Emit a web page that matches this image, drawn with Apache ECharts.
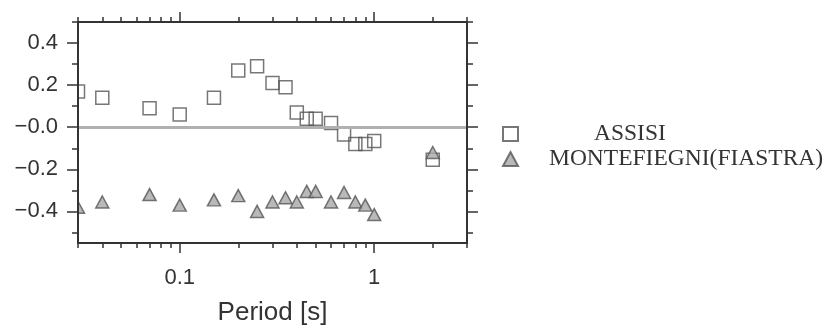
<!DOCTYPE html>
<html>
<head>
<meta charset="utf-8">
<script src="https://cdn.jsdelivr.net/npm/echarts@6/dist/echarts.min.js"></script>
<style>html,body{margin:0;padding:0;background:#fff}#c{width:826px;height:326px}</style>
</head>
<body>
<div id="c"></div>
<script>
const periods = [0.03, 0.04, 0.07, 0.1, 0.15, 0.2, 0.25, 0.3, 0.35, 0.4, 0.45, 0.5, 0.6, 0.7, 0.8, 0.9, 1.0, 2.0];
const assisi = [0.17, 0.14, 0.09, 0.06, 0.14, 0.27, 0.29, 0.21, 0.19, 0.07, 0.04, 0.04, 0.02, -0.035, -0.08, -0.08, -0.065, -0.155];
const montefiegni = [-0.38, -0.355, -0.32, -0.37, -0.345, -0.325, -0.40, -0.355, -0.335, -0.355, -0.305, -0.305, -0.355, -0.31, -0.355, -0.37, -0.415, -0.12];
const yMajor = [-0.4, -0.2, 0, 0.2, 0.4];
const yMinor = [-0.5, -0.3, -0.1, 0.1, 0.3, 0.5];
const xMajor = [0.1, 1];
const xMinor = [0.03, 0.04, 0.05, 0.06, 0.07, 0.08, 0.09, 0.2, 0.3, 0.4, 0.5, 0.6, 0.7, 0.8, 0.9, 2, 3];

const frame = '#333';
const sans = 'Liberation Sans, Arial, sans-serif';
const serif = 'Liberation Serif, Times New Roman, serif';
const lineStyle = {color: frame, width: 2};
function yAx(pos, ticks, len, labels, showLine) {
  return {
    type: 'value', position: pos, min: -0.55, max: 0.5, z: 10,
    axisLine: {show: showLine, onZero: false, lineStyle: lineStyle},
    axisTick: {show: true, inside: false, length: len, customValues: ticks, lineStyle: {color: frame, width: 1.5}},
    axisLabel: labels ? {
      show: true, customValues: yMajor, margin: 20, fontSize: 22, color: '#333', fontFamily: sans,
      formatter: v => (v <= 0 ? '\u2212' : '') + Math.abs(v).toFixed(1)
    } : {show: false},
    splitLine: {show: false}
  };
}
function xAx(pos, ticks, len, labels, showLine) {
  return {
    type: 'log', logBase: 10, position: pos, min: 0.03, max: 3, z: 10,
    axisLine: {show: showLine, onZero: false, lineStyle: lineStyle},
    axisTick: {show: true, inside: false, length: len, customValues: ticks, lineStyle: {color: frame, width: 1.5}},
    axisLabel: labels ? {
      show: true, customValues: xMajor, margin: 24, fontSize: 22, color: '#333', fontFamily: sans,
      formatter: v => String(v)
    } : {show: false},
    splitLine: {show: false},
    minorTick: {show: false},
    name: labels ? 'Period [s]' : '',
    nameLocation: 'middle', nameGap: 57,
    nameTextStyle: {fontSize: 26, color: '#333', fontFamily: sans}
  };
}

const chart = echarts.init(document.getElementById('c'));
chart.setOption({
  animation: false,
  backgroundColor: '#fff',
  grid: {left: 78, right: 359, top: 22, bottom: 83, containLabel: false, outerBoundsMode: 'none'},
  graphic: [{
    type: 'rect', left: 0, top: 0, z: 5, silent: true,
    shape: {width: 77, height: 326}, style: {fill: '#fff'}
  }],
  xAxis: [
    xAx('bottom', xMajor, 10, true, true),
    xAx('bottom', xMinor, 5, false, false),
    xAx('top', xMajor, 10, false, true),
    xAx('top', xMinor, 5, false, false)
  ],
  yAxis: [
    yAx('left', yMajor, 11, true, true),
    yAx('left', yMinor, 6, false, false),
    yAx('right', yMajor, 11, false, true),
    yAx('right', yMinor, 6, false, false)
  ],
  legend: {
    orient: 'vertical', left: 502, top: 122, padding: 0, itemWidth: 15, itemHeight: 14, itemGap: 1,
    selectedMode: false,
    data: ['ASSISI', 'MONTEFIEGNI(FIASTRA)'],
    formatter: n => n === 'ASSISI' ? '{a|' + n + '}' : '{b|' + n + '}',
    textStyle: {
      fontFamily: serif, fontSize: 23.5, color: '#333',
      rich: {
        a: {padding: [0, 0, 0, 71], fontFamily: serif, fontSize: 23.5, color: '#333'},
        b: {padding: [0, 0, 0, 26], fontFamily: serif, fontSize: 23.5, color: '#333'}
      }
    }
  },
  series: [
    {
      name: 'ASSISI', type: 'scatter', symbol: 'rect', symbolSize: 13, clip: true,
      data: periods.map((p, i) => [p, assisi[i]]),
      itemStyle: {color: 'rgba(255,255,255,0)', borderColor: '#555', borderWidth: 1.5},
      markLine: {
        silent: true, symbol: 'none', label: {show: false},
        lineStyle: {color: '#b0b0b0', width: 3, type: 'solid'},
        data: [{yAxis: 0}]
      },
      z: 2
    },
    {
      name: 'MONTEFIEGNI(FIASTRA)', type: 'scatter', symbol: 'triangle', symbolSize: [13, 12], clip: true,
      data: periods.map((p, i) => [p, montefiegni[i]]),
      itemStyle: {color: '#a8a8a8', borderColor: '#555', borderWidth: 1.5},
      z: 3
    }
  ]
});
</script>
</body>
</html>
